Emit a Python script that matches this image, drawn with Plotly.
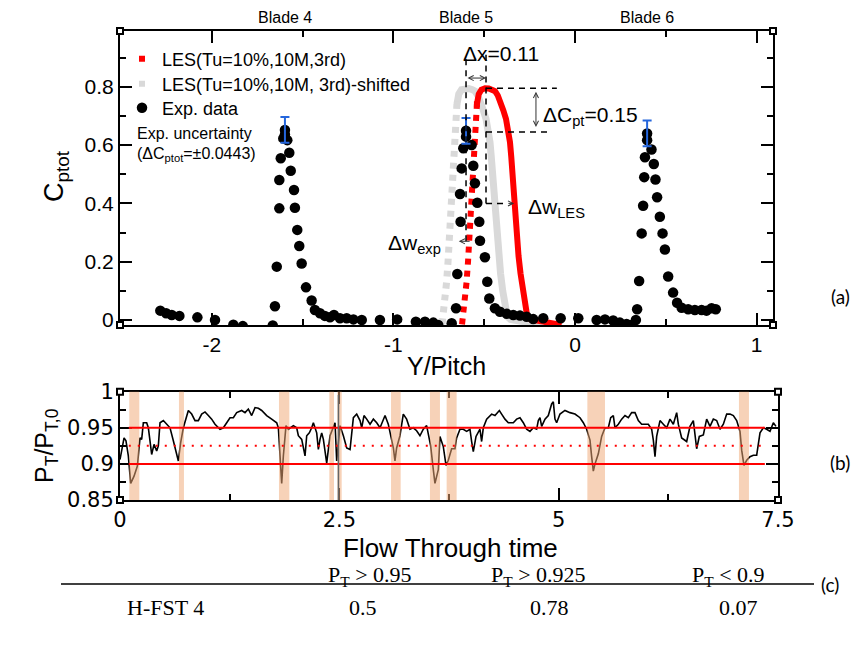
import plotly.graph_objects as go

W, H = 858, 647
SANS = "Liberation Sans, Arial, sans-serif"
WIDE = "DejaVu Sans, Verdana, sans-serif"
SERIF = "Liberation Serif, Times New Roman, serif"
LABEL_FONT = "Lato, Open Sans, sans-serif"

# ---------------- Panel (a): C_ptot across three blade wakes ----------------
exp_x = [-2.283, -2.251, -2.220, -2.178, -2.079, -1.982, -1.881, -1.829, -1.664, -1.652,
         -1.642, -1.628, -1.628, -1.620, -1.606, -1.597, -1.597, -1.584, -1.573, -1.565,
         -1.547, -1.542, -1.529, -1.518, -1.505, -1.481, -1.450, -1.432, -1.404, -1.377,
         -1.349, -1.327, -1.294, -1.257, -1.220, -1.174, -1.074, -0.979, -0.876, -0.826,
         -0.780, -0.753, -0.679, -0.655, -0.648, -0.630, -0.633, -0.624, -0.569, -0.615,
         -0.600, -0.600, -0.560, -0.551, -0.538, -0.527, -0.523, -0.496, -0.483, -0.472,
         -0.441, -0.413, -0.376, -0.340, -0.303, -0.266, -0.230, -0.175, -0.079, 0.018,
         0.119, 0.165, 0.210, 0.247, 0.284, 0.311, 0.335, 0.342, 0.353, 0.367,
         0.375, 0.381, 0.385, 0.397, 0.397, 0.421, 0.434, 0.443, 0.452, 0.467,
         0.482, 0.495, 0.513, 0.540, 0.562, 0.587, 0.623, 0.660, 0.697, 0.724,
         0.752, 0.775]
exp_y = [0.032, 0.023, 0.017, 0.014, 0.009, 0.000, -0.016, -0.021, -0.019, 0.047,
         0.183, 0.383, 0.480, 0.555, 0.623, 0.652, 0.636, 0.617, 0.574, 0.512,
         0.446, 0.385, 0.309, 0.254, 0.194, 0.112, 0.067, 0.034, 0.023, 0.014,
         0.009, 0.017, 0.006, 0.006, 0.002, 0.000, 0.000, 0.002, -0.006, -0.006,
         -0.009, -0.017, -0.011, 0.040, 0.158, 0.337, 0.432, 0.520, 0.600, 0.589,
         0.649, 0.629, 0.529, 0.469, 0.402, 0.337, 0.272, 0.215, 0.131, 0.074,
         0.040, 0.028, 0.021, 0.017, 0.015, 0.011, 0.003, 0.006, 0.006, 0.006,
         0.000, 0.002, -0.002, -0.009, -0.014, -0.017, 0.000, 0.037, 0.134, 0.297,
         0.392, 0.490, 0.558, 0.640, 0.617, 0.585, 0.535, 0.482, 0.421, 0.354,
         0.297, 0.242, 0.149, 0.094, 0.059, 0.042, 0.037, 0.034, 0.034, 0.032,
         0.040, 0.037]

# wake peaks carrying the experimental uncertainty bar
peak_x = [-1.597, -0.600, 0.397]
peak_y = [0.652, 0.649, 0.640]
exp_err = 0.0443
blade_names = ["Blade 4", "Blade 5", "Blade 6"]

les_x = [-0.622, -0.613, -0.605, -0.597, -0.589, -0.582, -0.575, -0.568, -0.561, -0.553,
         -0.546, -0.540, -0.530, -0.515, -0.495, -0.475, -0.455, -0.440, -0.425, -0.410,
         -0.395, -0.380, -0.368, -0.358, -0.351, -0.346, -0.340, -0.332, -0.322, -0.311,
         -0.300, -0.288, -0.275, -0.263, -0.245, -0.220, -0.190, -0.155, -0.120, -0.090,
         -0.074]
les_y = [-0.015, 0.025, 0.080, 0.130, 0.200, 0.270, 0.350, 0.430, 0.510, 0.590,
         0.670, 0.740, 0.775, 0.790, 0.795, 0.794, 0.790, 0.785, 0.770, 0.750,
         0.720, 0.690, 0.655, 0.610, 0.560, 0.515, 0.450, 0.370, 0.300, 0.220,
         0.160, 0.100, 0.050, 0.012, 0.002, 0.000, -0.003, -0.006, -0.010, -0.015,
         -0.017]

# pitchwise offset between LES and experimental wake peaks, and peak loss gap
delta_x = 0.11
delta_cpt = 0.15
les_shift_x = [v - delta_x for v in les_x]

# ---------------- Panel (b): inlet total pressure history ----------------
flow_t = [0.000, 0.046, 0.068, 0.095, 0.122, 0.160, 0.198, 0.228, 0.247, 0.266,
          0.304, 0.323, 0.342, 0.361, 0.388, 0.418, 0.437, 0.456, 0.494, 0.532,
          0.570, 0.608, 0.646, 0.665, 0.691, 0.722, 0.779, 0.817, 0.855, 0.893,
          0.931, 0.969, 1.007, 1.045, 1.083, 1.140, 1.178, 1.216, 1.254, 1.292,
          1.330, 1.387, 1.425, 1.463, 1.501, 1.539, 1.577, 1.615, 1.672, 1.729,
          1.786, 1.805, 1.824, 1.843, 1.862, 1.892, 1.919, 1.976, 2.014, 2.033,
          2.071, 2.090, 2.109, 2.128, 2.158, 2.185, 2.204, 2.242, 2.261, 2.280,
          2.299, 2.318, 2.337, 2.356, 2.394, 2.432, 2.451, 2.470, 2.508, 2.546,
          2.584, 2.622, 2.660, 2.698, 2.736, 2.755, 2.781, 2.812, 2.850, 2.888,
          2.926, 2.964, 3.002, 3.021, 3.058, 3.085, 3.116, 3.134, 3.153, 3.191,
          3.229, 3.267, 3.305, 3.343, 3.381, 3.419, 3.457, 3.495, 3.514, 3.541,
          3.571, 3.590, 3.628, 3.647, 3.685, 3.716, 3.742, 3.780, 3.818, 3.837,
          3.875, 3.913, 3.951, 3.989, 4.008, 4.027, 4.058, 4.085, 4.103, 4.122,
          4.141, 4.179, 4.236, 4.274, 4.324, 4.350, 4.388, 4.426, 4.483, 4.521,
          4.559, 4.597, 4.635, 4.673, 4.711, 4.749, 4.768, 4.787, 4.806, 4.844,
          4.882, 4.920, 4.939, 4.958, 4.977, 5.015, 5.072, 5.129, 5.186, 5.243,
          5.281, 5.319, 5.357, 5.376, 5.395, 5.414, 5.452, 5.490, 5.528, 5.566,
          5.593, 5.623, 5.642, 5.680, 5.718, 5.756, 5.794, 5.832, 5.870, 5.908,
          5.946, 6.022, 6.060, 6.079, 6.098, 6.117, 6.136, 6.155, 6.193, 6.231,
          6.269, 6.307, 6.345, 6.364, 6.402, 6.459, 6.497, 6.535, 6.573, 6.603,
          6.649, 6.687, 6.725, 6.763, 6.801, 6.839, 6.877, 6.915, 6.953, 6.991,
          7.029, 7.067, 7.086, 7.112, 7.143, 7.181, 7.219, 7.257, 7.295, 7.333,
          7.371, 7.409, 7.447, 7.477]
pt_ratio = [0.906, 0.936, 0.932, 0.911, 0.873, 0.883, 0.897, 0.936, 0.934, 0.957,
            0.957, 0.950, 0.932, 0.913, 0.927, 0.918, 0.925, 0.957, 0.960, 0.955,
            0.950, 0.932, 0.913, 0.904, 0.929, 0.950, 0.974, 0.969, 0.960, 0.960,
            0.969, 0.972, 0.967, 0.962, 0.955, 0.948, 0.950, 0.957, 0.964, 0.964,
            0.971, 0.974, 0.971, 0.976, 0.967, 0.978, 0.977, 0.974, 0.967, 0.962,
            0.957, 0.950, 0.911, 0.873, 0.911, 0.953, 0.948, 0.953, 0.950, 0.939,
            0.934, 0.920, 0.911, 0.939, 0.943, 0.950, 0.957, 0.943, 0.920, 0.934,
            0.943, 0.934, 0.920, 0.901, 0.939, 0.950, 0.957, 0.904, 0.953, 0.939,
            0.922, 0.920, 0.964, 0.969, 0.960, 0.950, 0.967, 0.962, 0.955, 0.962,
            0.957, 0.950, 0.962, 0.967, 0.955, 0.939, 0.922, 0.904, 0.922, 0.939,
            0.969, 0.962, 0.948, 0.950, 0.946, 0.939, 0.948, 0.953, 0.939, 0.925,
            0.892, 0.873, 0.892, 0.938, 0.924, 0.898, 0.905, 0.921, 0.921, 0.936,
            0.948, 0.948, 0.945, 0.948, 0.931, 0.917, 0.938, 0.945, 0.948, 0.931,
            0.950, 0.962, 0.969, 0.967, 0.974, 0.969, 0.962, 0.957, 0.957, 0.962,
            0.964, 0.957, 0.948, 0.945, 0.950, 0.948, 0.960, 0.964, 0.952, 0.962,
            0.967, 0.983, 0.986, 0.962, 0.957, 0.969, 0.974, 0.971, 0.969, 0.964,
            0.957, 0.948, 0.933, 0.910, 0.890, 0.900, 0.914, 0.938, 0.950, 0.950,
            0.964, 0.967, 0.950, 0.955, 0.962, 0.967, 0.964, 0.971, 0.971, 0.960,
            0.955, 0.955, 0.948, 0.933, 0.910, 0.938, 0.952, 0.960, 0.955, 0.950,
            0.962, 0.955, 0.971, 0.955, 0.936, 0.931, 0.952, 0.960, 0.921, 0.938,
            0.940, 0.962, 0.952, 0.962, 0.960, 0.948, 0.955, 0.969, 0.969, 0.967,
            0.960, 0.945, 0.919, 0.898, 0.905, 0.910, 0.912, 0.912, 0.943, 0.950,
            0.948, 0.945, 0.957, 0.952]

# low-pressure events (shaded) and reference levels
event_start = [0.106, 0.672, 1.812, 2.386, 2.477, 3.089, 3.533, 3.723, 5.327, 7.055]
event_end = [0.220, 0.729, 1.930, 2.439, 2.527, 3.199, 3.647, 3.837, 5.528, 7.169]
ref_levels = [0.95, 0.925, 0.90]
ref_dash = ["solid", "2px,7px", "solid"]
ref_span = [0.10, 7.35]
restart_t = 2.49

# ---------------- Panel (c): time fractions ----------------
table_head = ["P<sub>T</sub> > 0.95", "P<sub>T</sub> > 0.925", "P<sub>T</sub> < 0.9"]
table_case = "H-FST 4"
table_vals = ["0.5", "0.78", "0.07"]


def fx(p):
    return p / W


def fy(p):
    return 1 - p / H


# the rising flank of the LES wake is sparsely sampled and reads as broken
n_rise = next(i for i, v in enumerate(les_y) if v >= 0.74) + 1

fig = go.Figure()


def add_les(xs, color, width, name, legend):
    fig.add_trace(go.Scatter(x=xs[:n_rise], y=les_y[:n_rise], mode="lines",
                             line=dict(color=color, width=width, dash="6px,6px"),
                             showlegend=False, hoverinfo="skip"))
    fig.add_trace(go.Scatter(x=xs[n_rise - 1:], y=les_y[n_rise - 1:], mode="lines",
                             line=dict(color=color, width=width),
                             showlegend=False, hoverinfo="skip"))
    fig.add_trace(go.Scatter(x=[xs[n_rise - 1]], y=[les_y[n_rise - 1]], mode="markers",
                             marker=dict(symbol="square", size=6, color=color),
                             name=name, legend=legend))


# shifted copy first so the unshifted LES sits on top
add_les(les_shift_x, "#d9d9d9", 7, "LES(Tu=10%,10M, 3rd)-shifted", "legend2")
add_les(les_x, "#ff0000", 6, "LES(Tu=10%,10M,3rd)", "legend")
fig.add_trace(go.Scatter(x=exp_x, y=exp_y, mode="markers",
                         marker=dict(symbol="circle", size=10.5, color="black"),
                         name="Exp. data", legend="legend3"))
fig.add_trace(go.Scatter(x=peak_x, y=peak_y, mode="markers",
                         marker=dict(size=1, color="rgba(0,0,0,0)"),
                         error_y=dict(type="constant", value=exp_err, color="#2566dc",
                                      thickness=2, width=4.5),
                         showlegend=False, hoverinfo="skip"))

# inlet total pressure trace
fig.add_trace(go.Scatter(x=flow_t, y=pt_ratio, mode="lines", xaxis="x2", yaxis="y2",
                         line=dict(color="black", width=1.6),
                         showlegend=False, hoverinfo="skip"))

axis_common = dict(showline=True, linecolor="black", linewidth=2, mirror="allticks",
                   ticks="inside", ticklen=12, tickwidth=1.5, tickcolor="black",
                   showgrid=False, zeroline=False, automargin=False)
font_a = dict(tickfont=dict(family=SANS, size=21, color="black"))
font_b = dict(tickfont=dict(family=WIDE, size=21, color="black"))


def legend_at(ypix):
    return dict(x=fx(122), y=fy(ypix), xanchor="left", yanchor="middle",
                bgcolor="rgba(0,0,0,0)", borderwidth=0,
                font=dict(family=SANS, size=18, color="black"))


fig.update_layout(
    template="none",
    width=W, height=H, margin=dict(l=0, r=0, t=0, b=0, autoexpand=False),
    paper_bgcolor="white", plot_bgcolor="white",
    font=dict(family=SANS, color="black"),
    xaxis=dict(domain=[fx(120), fx(773)], range=[-2.505, 1.09], anchor="y",
               tickmode="array", tickvals=[-2, -1, 0, 1], ticktext=["-2", "-1", "0", "1"],
               minor=dict(tickmode="linear", tick0=0, dtick=0.5, ticks="inside",
                          ticklen=6, tickwidth=1.5, tickcolor="black"),
               **axis_common, **font_a),
    yaxis=dict(domain=[fy(325), fy(31)], range=[-0.0172, 0.9914], anchor="x",
               tickmode="array", tickvals=[0, 0.2, 0.4, 0.6, 0.8],
               ticktext=["0", "0.2", "0.4", "0.6", "0.8"],
               minor=dict(tickmode="linear", tick0=0, dtick=0.1, ticks="inside",
                          ticklen=6, tickwidth=1.5, tickcolor="black"),
               **axis_common, **font_a),
    xaxis2=dict(domain=[fx(120), fx(778)], range=[0, 7.5], anchor="y2",
                tickmode="array", tickvals=[0, 2.5, 5, 7.5], ticktext=["0", "2.5", "5", "7.5"],
                minor=dict(tickmode="linear", tick0=0, dtick=1.25, ticks="inside",
                           ticklen=6, tickwidth=1.5, tickcolor="black"),
                **axis_common, **font_b),
    yaxis2=dict(domain=[fy(500), fy(391.7)], range=[0.85, 1.0], anchor="x2",
                tickmode="array", tickvals=[0.85, 0.9, 0.95, 1.0],
                ticktext=["0.85", "0.9", "0.95", "1"],
                minor=dict(tickmode="linear", tick0=0.85, dtick=0.025, ticks="inside",
                           ticklen=6, tickwidth=1.5, tickcolor="black"),
                **axis_common, **font_b),
    legend=legend_at(59), legend2=legend_at(84), legend3=legend_at(108),
)

shapes = []
dash_black = dict(color="black", width=1.5, dash="6px,5px")
x_exp_pk = peak_x[1]
x_les_pk = x_exp_pk + delta_x
cp_les_pk = max(les_y)
cp_exp_pk = cp_les_pk - delta_cpt
shapes.append(dict(type="line", xref="x", yref="y", x0=x_exp_pk, x1=x_exp_pk,
                   y0=0.27, y1=0.91, line=dash_black))
shapes.append(dict(type="line", xref="x", yref="y", x0=x_les_pk, x1=x_les_pk,
                   y0=0.40, y1=0.91, line=dash_black))
shapes.append(dict(type="line", xref="x", yref="y", x0=x_les_pk, x1=-0.10,
                   y0=cp_les_pk, y1=cp_les_pk, line=dash_black))
shapes.append(dict(type="line", xref="x", yref="y", x0=x_les_pk, x1=-0.135,
                   y0=cp_exp_pk, y1=cp_exp_pk, line=dash_black))
shapes.append(dict(type="line", xref="x", yref="y", x0=x_les_pk, x1=-0.37,
                   y0=0.40, y1=0.40, line=dash_black))

# shaded low-pressure events
for a, b in zip(event_start, event_end):
    shapes.append(dict(type="rect", xref="x2", yref="y2 domain", x0=a, x1=b, y0=0, y1=1,
                       fillcolor="rgba(240,168,118,0.52)", line=dict(width=0),
                       layer="above"))
for lev, dsh in zip(ref_levels, ref_dash):
    shapes.append(dict(type="line", xref="x2", yref="y2", x0=ref_span[0], x1=ref_span[1],
                       y0=lev, y1=lev, line=dict(color="#ff0000", width=2, dash=dsh)))
shapes.append(dict(type="line", xref="x2", yref="y2 domain", x0=restart_t, x1=restart_t,
                   y0=0, y1=0.97, line=dict(color="#666666", width=1.5)))

# table rule
shapes.append(dict(type="line", xref="paper", yref="paper", x0=fx(61), x1=fx(814),
                   y0=fy(584), y1=fy(584), line=dict(color="black", width=1.5)))

# small corner boxes on the frames
for (l, r, t, b) in [(120, 773, 31, 325), (120, 778, 391.7, 500)]:
    for cx in (l, r):
        for cy in (t, b):
            shapes.append(dict(type="rect", xref="paper", yref="paper",
                               x0=fx(cx - 3), x1=fx(cx + 3), y0=fy(cy + 3), y1=fy(cy - 3),
                               fillcolor="white", line=dict(color="black", width=2),
                               layer="above"))

ann = []
arrow_col = "#333333"


def note(x, y, text, size, xref="x", yref="y", xa="center", ya="middle", **kw):
    ann.append(dict(x=x, y=y, xref=xref, yref=yref, xanchor=xa, yanchor=ya,
                    showarrow=False, text=text, font=dict(size=size, **kw.pop("font", {})),
                    **kw))


def arrow(x, y, ax, ay, both=False):
    ann.append(dict(x=x, y=y, ax=ax, ay=ay, xref="x", yref="y", axref="x", ayref="y",
                    text="", showarrow=True, arrowhead=5,
                    arrowside="end+start" if both else "end",
                    arrowsize=1, arrowwidth=1, arrowcolor=arrow_col))


# delta-x and delta-Cpt markers
arrow(x_les_pk, 0.83, x_exp_pk, 0.83, both=True)
note(-0.407, 0.915, f"\u0394x={delta_x:.2f}", 21)
arrow(-0.215, cp_les_pk - 0.012, -0.215, cp_exp_pk + 0.012, both=True)
note(-0.19, 0.70, f"\u0394C<sub>pt</sub>={delta_cpt:.2f}", 21, xa="left")
# wake width arrows
arrow(-0.335, 0.40, -0.375, 0.40)
note(-0.272, 0.385, "\u0394w<sub>LES</sub>", 21, xa="left")
arrow(-0.640, 0.27, -0.572, 0.27)
note(-1.04, 0.26, "\u0394w<sub>exp</sub>", 21, xa="left")
# uncertainty note
note(-2.42, 0.641, "Exp. uncertainty", 16, xa="left")
note(-2.42, 0.568, f"(\u0394C<sub>ptot</sub>=\u00b1{exp_err:.4f})", 16, xa="left")
# blade labels above panel (a)
for bx, name in zip(peak_x, blade_names):
    note(bx, fy(17), name, 16, yref="paper")
# axis titles
note(fx(446.5), fy(366), "Y/Pitch", 25, xref="paper", yref="paper")
note(fx(56), fy(176), "C<sub>ptot</sub>", 27, xref="paper", yref="paper", textangle=-90)
note(fx(450), fy(548), "Flow Through time", 26, xref="paper", yref="paper")
note(fx(46), fy(446), "P<sub>T</sub>/P<sub>T,0</sub>", 25, xref="paper", yref="paper",
     textangle=-90)
# panel tags
for tag, tx, ty in [("(a)", 840, 297), ("(b)", 840, 462), ("(c)", 830, 584)]:
    note(fx(tx), fy(ty), tag, 19, xref="paper", yref="paper",
         font=dict(family=LABEL_FONT))
# table
for txt, cx in zip(table_head, [370, 538, 728]):
    note(fx(cx), fy(576), txt, 22, xref="paper", yref="paper", font=dict(family=SERIF))
note(fx(165), fy(607), table_case, 22, xref="paper", yref="paper", font=dict(family=SERIF))
for txt, cx in zip(table_vals, [363, 549, 738]):
    note(fx(cx), fy(607), txt, 22, xref="paper", yref="paper", font=dict(family=SERIF))

fig.update_layout(shapes=shapes, annotations=ann)
fig.write_html("out.html",
               post_script="document.body.style.margin='0';"
                           "document.body.style.overflow='hidden';")
